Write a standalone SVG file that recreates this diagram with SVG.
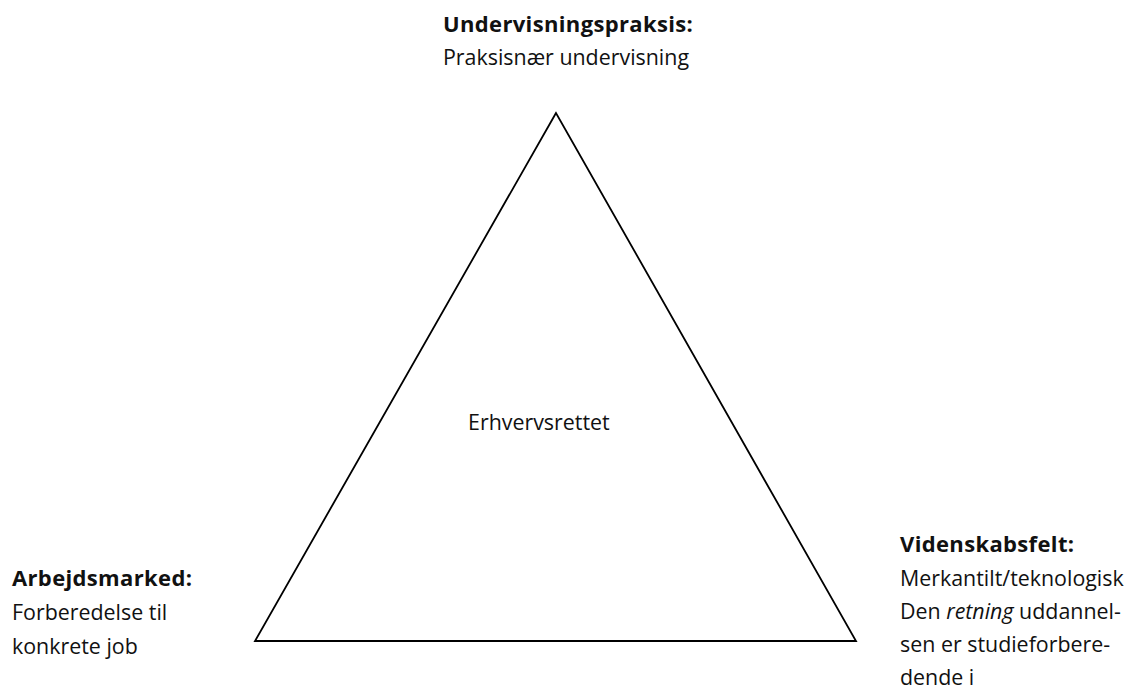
<svg xmlns="http://www.w3.org/2000/svg" width="1134" height="690" viewBox="0 0 1134 690">
<style>
text{font-family:"Open Sans","Noto Sans","Liberation Sans",sans-serif;font-size:21.4px;fill:#111}
.b{font-weight:bold;font-size:22px;letter-spacing:0.35px}
.i{font-style:italic}
.tri{fill:none;stroke:#000;stroke-width:1.8;stroke-linejoin:miter}
</style>
<rect width="1134" height="690" fill="#fff"/>
<g id="connectors">
<polygon class="tri" points="556,113 255,641 856,641"/>
</g>
<g id="center">
<text x="468" y="430">Erhvervsrettet</text>
</g>
<g id="top">
<text class="b" x="443" y="32">Undervisningspraksis:</text>
<text x="443" y="65">Praksisnær undervisning</text>
</g>
<g id="left">
<text class="b" x="12" y="586">Arbejdsmarked:</text>
<text x="12" y="620">Forberedelse til</text>
<text x="12" y="654">konkrete job</text>
</g>
<g id="right">
<text class="b" x="900" y="552">Videnskabsfelt:</text>
<text x="900" y="586">Merkantilt/teknologisk</text>
<text x="900" y="619"><tspan>Den </tspan><tspan class="i">retning</tspan><tspan> uddannel-</tspan></text>
<text x="900" y="652">sen er studieforbere-</text>
<text x="900" y="685">dende i</text>
</g>
</svg>
